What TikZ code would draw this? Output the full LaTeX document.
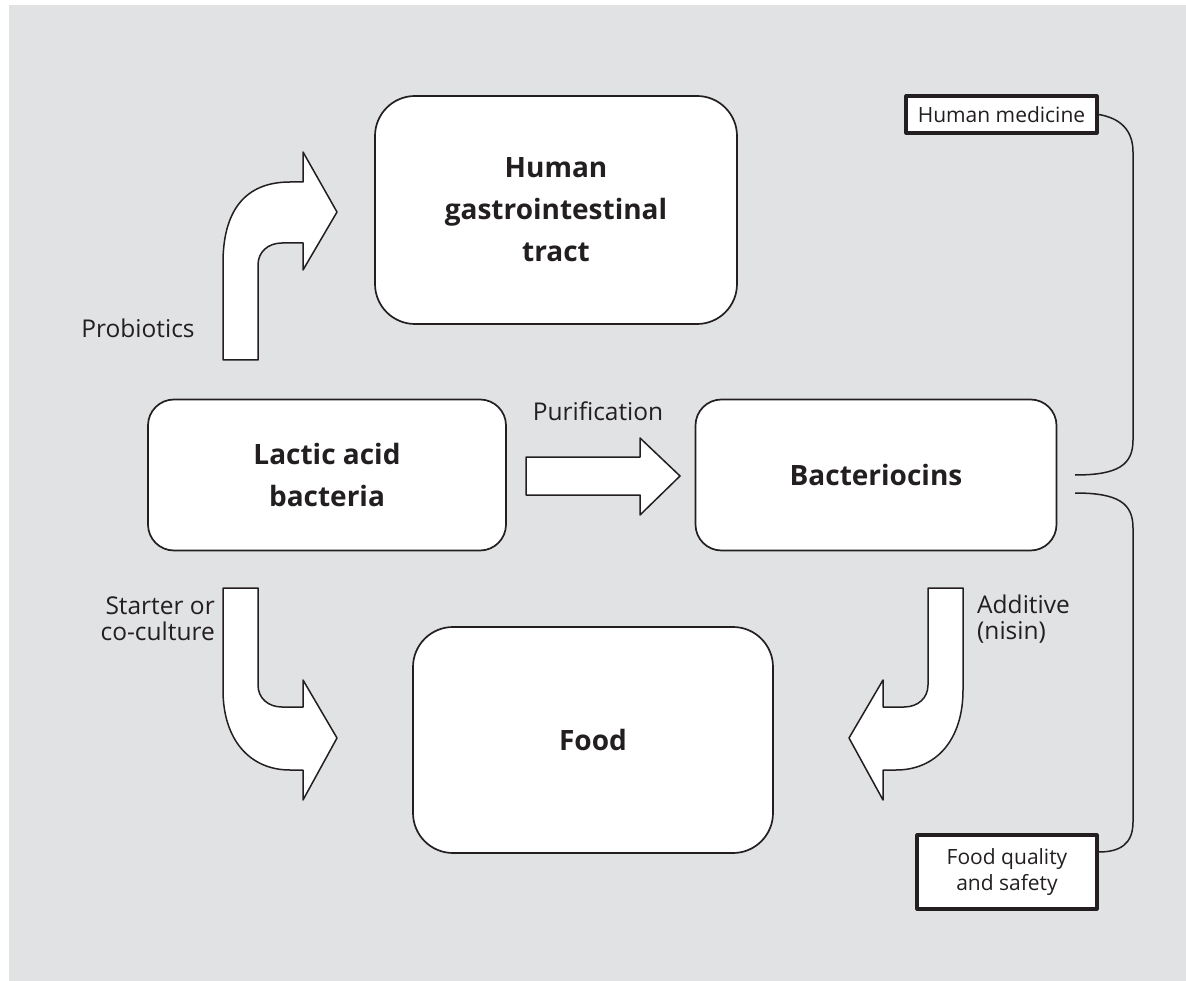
\documentclass[tikz,border=0pt]{standalone}
\usepackage{fontspec}
\setmainfont{Open Sans}
\usepackage{tikz}
\usetikzlibrary{positioning}

\definecolor{panel}{HTML}{E1E2E4}
\definecolor{ink}{HTML}{231F20}

\begin{document}
\begin{tikzpicture}[x=1pt,y=-1pt,line join=round]
    \useasboundingbox (0,0) rectangle (1186,981);
    \fill[panel] (9,5) rectangle (1186,981);

    %Main boxes
     \begin{scope}[every node/.style={draw=ink,line width=1.7pt,fill=white,text=ink,
        align=center,font=\fontsize{28}{42}\selectfont\bfseries}]
       \node[rounded corners=40pt,minimum width=362pt,minimum height=228pt] (gut) at (556,210) {Human\\gastrointestinal\\tract};
       \node[rounded corners=26pt,minimum width=358pt,minimum height=151pt] (lab) at (327,475) {Lactic acid\\bacteria};
       \node[rounded corners=26pt,minimum width=361pt,minimum height=151pt] (bact) at (876,475) {Bacteriocins};
       \node[rounded corners=40pt,minimum width=360pt,minimum height=226pt] (food) at (593,740) {Food};
    \end{scope}

    %Uses
     \begin{scope}[every node/.style={draw=ink,line width=3.2pt,fill=white,text=ink,
        align=center,inner sep=0pt,font=\fontsize{21}{26}\selectfont}]
       \node[minimum width=191pt,minimum height=37pt] (med) at (1001.5,114.5) {Human medicine};
       \node[minimum width=180pt,minimum height=74pt] (qual) at (1007,872) {Food quality\\and safety};
    \end{scope}

    %Fat arrows
     \begin{scope}[draw=ink,line width=1.5pt,fill=white]
      \filldraw (223,360) -- (223,263) .. controls (223,212) and (244,182) .. (290,182) -- (303,182)
        -- (303,152) -- (337,212) -- (303,270) -- (303,243) -- (282,243)
        .. controls (268,243) and (258,252) .. (258,265) -- (258,360) -- cycle;
      \filldraw (223,588) -- (258,588) -- (258,685) .. controls (258,698) and (268,707) .. (282,707)
        -- (303,707) -- (303,680) -- (337,738) -- (303,800) -- (303,770) -- (290,770)
        .. controls (250,770) and (223,740) .. (223,690) -- cycle;
      \filldraw (963,588) -- (928,588) -- (928,685) .. controls (928,698) and (918,707) .. (904,707)
        -- (883,707) -- (883,680) -- (849,738) -- (883,800) -- (883,770) -- (896,770)
        .. controls (936,770) and (963,740) .. (963,690) -- cycle;
      \filldraw (526,457) -- (640,457) -- (640,438) -- (680,476) -- (640,515) -- (640,495) -- (526,495) -- cycle;
    \end{scope}

    %Labels
     \begin{scope}[every node/.style={text=ink,inner sep=0pt,font=\fontsize{24.5}{26}\selectfont}]
       \node (prob) at (138,328) {Probiotics};
       \node (puri) at (598,411) {Purification};
       \node[anchor=east,align=right] (start) at (215,619) {Starter or\\co-culture};
       \node[anchor=west,align=left] (add) at (977,619) {Additive\\(nisin)};
    \end{scope}

    %Braces
    \coordinate (bu) at (1075,475);
    \coordinate (bl) at (1075,493);
    \draw[ink,line width=1.5pt] (bu) .. controls (1118,475) and (1133,465) .. (1133,440)
      -- (1133,152) .. controls (1133,130) and (1120,118) .. (med.east);
    \draw[ink,line width=1.5pt] (bl) .. controls (1118,493) and (1133,503) .. (1133,528)
      -- (1133,822) .. controls (1133,844) and (1120,852) .. ([yshift=20pt]qual.east);
  \end{tikzpicture}
\end{document}
